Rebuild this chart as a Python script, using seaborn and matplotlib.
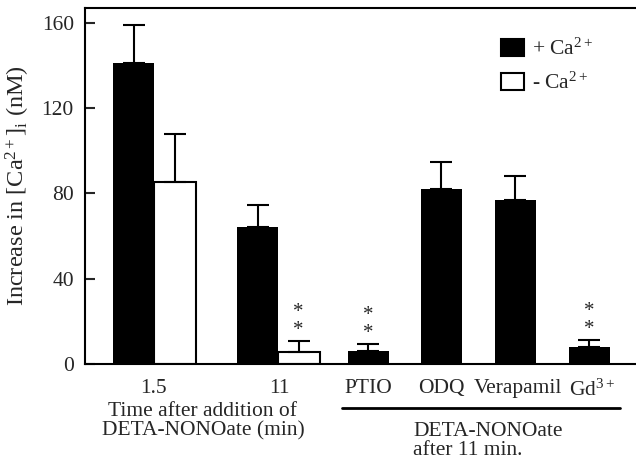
import numpy as np
import pandas as pd
import matplotlib
matplotlib.use("Agg")
import matplotlib.pyplot as plt
from matplotlib.patches import Patch
from matplotlib.lines import Line2D
import seaborn as sns

# values (nM), mean and upper error
conditions = ["1.5", "11", "PTIO", "ODQ", "Verapamil", "Gd$^{3+}$"]
plus_ca = [141, 64.5, 6.2, 82, 77, 7.8]
plus_ca_err = [18, 10, 3.2, 12.8, 11.4, 3.5]
plus_stars = [False, False, True, False, False, True]

minus_conditions = ["1.5", "11"]
minus_ca = [85.5, 5.6]
minus_ca_err = [22.3, 5.0]
minus_stars = [False, True]

sns.set_style("ticks")
plt.rcParams["font.family"] = ["Liberation Serif", "DejaVu Serif"]
plt.rcParams["mathtext.fontset"] = "custom"
plt.rcParams["mathtext.rm"] = "Liberation Serif"
plt.rcParams["mathtext.it"] = "Liberation Serif:italic"

W, H = 636, 459
FS = 15.5


def px(x, y):
    # pixel position (from top-left) -> figure fraction
    return x / W, 1 - y / H


# layout: x axis in pixel-like units so the bars sit where they do in the figure
plus_x = [133.5, 257.5, 368, 441, 515, 589]
minus_x = [175, 298.5]
label_x = [153, 279, 368, 441, 518, 592]

plus_df = pd.DataFrame({"pos": plus_x, "value": plus_ca, "cond": conditions})
minus_df = pd.DataFrame({"pos": minus_x, "value": minus_ca, "cond": minus_conditions})

fig = plt.figure(figsize=(W / 100, H / 100), dpi=100)
ax = fig.add_axes([85 / W, (H - 364) / H, 1 - 85 / W, 356 / H])

sns.barplot(data=plus_df, x="pos", y="value", native_scale=True, orient="x",
            color="black", saturation=1, width=41 / 73, errorbar=None,
            edgecolor="black", linewidth=0, ax=ax)
sns.barplot(data=minus_df, x="pos", y="value", native_scale=True, orient="x",
            color="white", saturation=1, width=42 / (minus_x[1] - minus_x[0]),
            errorbar=None, edgecolor="black", linewidth=1.5, ax=ax)

# upward-only error bars
ax.errorbar(plus_x, plus_ca, yerr=[np.zeros(len(plus_ca)), plus_ca_err],
            fmt="none", ecolor="black", elinewidth=1.5, capsize=8, capthick=1.5)
ax.errorbar(minus_x, minus_ca, yerr=[np.zeros(len(minus_ca)), minus_ca_err],
            fmt="none", ecolor="black", elinewidth=1.5, capsize=8, capthick=1.5)

# significance marks
for xs, vals, errs, flags in [(plus_x, plus_ca, plus_ca_err, plus_stars),
                              (minus_x, minus_ca, minus_ca_err, minus_stars)]:
    for x, v, e, f in zip(xs, vals, errs, flags):
        if f:
            ax.text(x, v + e + 0.5, "*\n*", ha="center", va="bottom",
                    fontsize=15, linespacing=0.95)

ax.set_xlim(85, 636)
ax.set_ylim(0, 167)
ax.set_yticks([0, 40, 80, 120, 160])
ax.set_xticks(label_x)
ax.set_xticklabels(conditions)
ax.tick_params(axis="y", direction="in", length=7, width=1.5, pad=8, labelsize=FS)
ax.tick_params(axis="x", length=0, pad=11, labelsize=FS)
ax.set_xlabel("")
ax.set_ylabel("Increase in [Ca$^{2+}$]$_\\mathrm{i}$ (nM)", fontsize=17.5, labelpad=7)
for side in ["left", "bottom", "top"]:
    ax.spines[side].set_linewidth(1.5)
    ax.spines[side].set_color("black")
ax.spines["right"].set_visible(False)

# legend
handles = [Patch(facecolor="black", edgecolor="black", linewidth=1.5),
           Patch(facecolor="white", edgecolor="black", linewidth=1.5)]
fig.legend(handles, ["+ Ca$^{2+}$", "- Ca$^{2+}$"], loc="upper left",
           bbox_to_anchor=px(490, 28), frameon=False, borderpad=0,
           handlelength=1.1, handleheight=0.85, handletextpad=0.35,
           labelspacing=0.6, fontsize=FS)

# group captions under the axis
fig.text(*px(203, 421), "Time after addition of\nDETA-NONOate (min)",
         ha="center", va="center", fontsize=FS, linespacing=1.0)
fig.add_artist(Line2D([342 / W, 620 / W], [1 - 408 / H, 1 - 408 / H],
                      color="black", linewidth=2))
fig.text(*px(413, 441), "DETA-NONOate\nafter 11 min.",
         ha="left", va="center", fontsize=FS, linespacing=1.0)

fig.savefig("out.png", dpi=100)
